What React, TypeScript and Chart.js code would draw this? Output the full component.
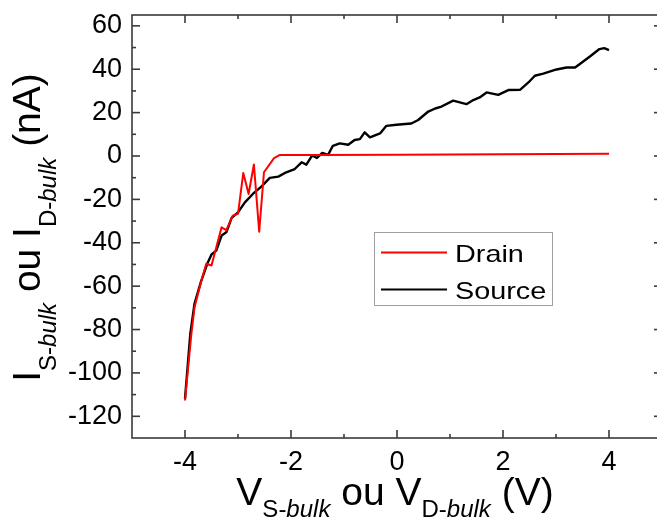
import React, { useEffect, useRef } from 'react';
import { Chart, registerables } from 'chart.js';

Chart.register(...registerables);

// ---- data ----
const drainV = [-4, -3.88, -3.82, -3.69, -3.6, -3.5, -3.31, -3.22, -3.1, -3.0, -2.9, -2.8, -2.7, -2.6, -2.51, -2.32, -2.21, -1.5, 0, 2, 4];
const drainI = [-112.7, -82, -69.7, -57.4, -49.7, -50.5, -32.9, -34.2, -27.5, -26.7, -7.8, -17.5, -3.9, -34.9, -7.5, -1.0, 0.5, 0.5, 0.6, 0.8, 1.0];

const sourceV = [-4, -3.9, -3.82, -3.7, -3.58, -3.5, -3.41, -3.31, -3.22, -3.12, -3.0, -2.87, -2.72, -2.56, -2.4, -2.24, -2.09, -1.93, -1.8, -1.71, -1.6, -1.51, -1.41, -1.3, -1.21, -1.08, -0.92, -0.8, -0.7, -0.61, -0.51, -0.32, -0.2, -0.01, 0.27, 0.4, 0.59, 0.72, 0.84, 1.06, 1.31, 1.44, 1.56, 1.69, 1.91, 2.1, 2.32, 2.48, 2.6, 2.76, 3.01, 3.2, 3.36, 3.45, 3.64, 3.82, 3.91, 4.0];
const sourceI = [-112, -82, -68, -58, -49.7, -45.4, -43.6, -36.7, -35.2, -28.5, -26, -21.4, -17.5, -14.1, -10.1, -9.5, -7.5, -6, -2.9, -4, 0.3, -0.9, 1.4, 0.5, 4.7, 5.8, 5.2, 7.4, 7.8, 10.9, 8.6, 10.4, 13.9, 14.4, 15, 16.6, 20.5, 21.9, 22.8, 25.5, 23.9, 25.8, 27, 29.3, 28.2, 30.4, 30.5, 33.9, 37, 38, 39.9, 40.8, 40.8, 42.4, 45.9, 49.3, 49.7, 48.8];

const seriesNames = ['Drain', 'Source'];
const seriesColors = ['#ff0000', '#000000'];

const xTickValues = [-4, -2, 0, 2, 4];
const xMinorValues = [-3, -1, 1, 3];
const yTickValues = [-120, -100, -80, -60, -40, -20, 0, 20, 40, 60];
const yMinorValues = [-110, -90, -70, -50, -30, -10, 10, 30, 50];

type Seg = { t: string; sub?: boolean; it?: boolean };
const xTitle: Seg[] = [
  { t: 'V' }, { t: 'S-', sub: true }, { t: 'bulk', sub: true, it: true },
  { t: ' ou V' }, { t: 'D-', sub: true }, { t: 'bulk', sub: true, it: true }, { t: ' (V)' },
];
const yTitle: Seg[] = [
  { t: 'I' }, { t: 'S-', sub: true }, { t: 'bulk', sub: true, it: true },
  { t: ' ou I' }, { t: 'D-', sub: true }, { t: 'bulk', sub: true, it: true }, { t: ' (nA)' },
];

const FONT = '"Liberation Sans", Arial, sans-serif';
const segFont = (s: Seg) => `${s.it ? 'italic ' : ''}${s.sub ? 24 : 39}px ${FONT}`;

function drawRich(ctx: CanvasRenderingContext2D, segs: Seg[], cx: number, baseY: number, subOff: number) {
  let total = 0;
  for (const s of segs) {
    ctx.font = segFont(s);
    total += ctx.measureText(s.t).width;
  }
  let x = cx - total / 2;
  ctx.textAlign = 'left';
  ctx.textBaseline = 'alphabetic';
  for (const s of segs) {
    ctx.font = segFont(s);
    ctx.fillText(s.t, x, baseY + (s.sub ? subOff : 0));
    x += ctx.measureText(s.t).width;
  }
}

function line(ctx: CanvasRenderingContext2D, x1: number, y1: number, x2: number, y2: number) {
  ctx.beginPath();
  ctx.moveTo(x1, y1);
  ctx.lineTo(x2, y2);
  ctx.stroke();
}

const framePlugin = {
  id: 'frameTicks',
  afterDraw(chart: any) {
    const ctx: CanvasRenderingContext2D = chart.ctx;
    const { left, right, top, bottom } = chart.chartArea;
    const xs = chart.scales.x;
    const ys = chart.scales.y;
    ctx.save();
    ctx.setLineDash([]);
    ctx.strokeStyle = '#3a3a3a';
    ctx.lineWidth = 1.6;
    ctx.strokeRect(left, top, right - left, bottom - top);
    const major = 8, minor = 4;
    for (const v of xTickValues) {
      const p = xs.getPixelForValue(v);
      line(ctx, p, bottom, p, bottom - major);
      line(ctx, p, top, p, top + major);
    }
    for (const v of xMinorValues) {
      const p = xs.getPixelForValue(v);
      line(ctx, p, bottom, p, bottom - minor);
      line(ctx, p, top, p, top + minor);
    }
    for (const v of yTickValues) {
      const p = ys.getPixelForValue(v);
      line(ctx, left, p, left + major, p);
      line(ctx, right, p, right - major, p);
    }
    for (const v of yMinorValues) {
      const p = ys.getPixelForValue(v);
      line(ctx, left, p, left + minor, p);
      line(ctx, right, p, right - minor, p);
    }

    ctx.fillStyle = '#000';
    // x title
    drawRich(ctx, xTitle, 395, 505, 12);
    // y title
    ctx.save();
    ctx.translate(40, (top + bottom) / 2 + 1);
    ctx.rotate(-Math.PI / 2);
    drawRich(ctx, yTitle, 0, 0, 16);
    ctx.restore();

    // legend
    ctx.strokeStyle = '#a0a0a0';
    ctx.lineWidth = 1;
    ctx.strokeRect(374.5, 232.5, 178, 73);
    const rows = [252.5, 289.5];
    chart.data.datasets.forEach((ds: any, i: number) => {
      ctx.strokeStyle = ds.borderColor;
      ctx.lineWidth = 2;
      line(ctx, 381, rows[i], 447, rows[i]);
      ctx.save();
      ctx.translate(455, rows[i] + 9);
      ctx.scale(1.2, 1);
      ctx.font = `24px ${FONT}`;
      ctx.fillStyle = '#000';
      ctx.textAlign = 'left';
      ctx.textBaseline = 'alphabetic';
      ctx.fillText(ds.label, 0, 0);
      ctx.restore();
    });
    ctx.restore();
  },
};

const zeroPad = (s: any) => {
  s.paddingTop = 0;
  s.paddingBottom = 0;
  s.paddingLeft = 0;
  s.paddingRight = 0;
};

export default function App() {
  const ref = useRef<HTMLCanvasElement | null>(null);
  useEffect(() => {
    if (!ref.current) return;
    const mk = (xs: number[], ys: number[]) => xs.map((x, i) => ({ x, y: ys[i] }));
    const chart = new Chart(ref.current, {
      type: 'line',
      data: {
        datasets: [
          { label: seriesNames[0], data: mk(drainV, drainI), borderColor: seriesColors[0], borderWidth: 2, pointRadius: 0, tension: 0, fill: false, borderJoinStyle: 'round' as const },
          { label: seriesNames[1], data: mk(sourceV, sourceI), borderColor: seriesColors[1], borderWidth: 2.4, pointRadius: 0, tension: 0, fill: false, borderJoinStyle: 'round' as const },
        ],
      },
      options: {
        responsive: false,
        devicePixelRatio: 1,
        animation: false,
        layout: { padding: { top: 15, right: 18, left: 0, bottom: 0 } },
        plugins: { legend: { display: false }, tooltip: { enabled: false } },
        scales: {
          x: {
            type: 'linear',
            min: -5,
            max: 5,
            grid: { display: false, drawTicks: false },
            border: { display: false },
            afterBuildTicks: (s: any) => { s.ticks = xTickValues.map((v) => ({ value: v })); },
            afterFit: (s: any) => { s.height = 82; zeroPad(s); },
            ticks: { color: '#000', font: { family: FONT, size: 27 }, padding: 8, maxRotation: 0, callback: (v: any) => String(v) },
          },
          y: {
            type: 'linear',
            min: -130,
            max: 65,
            grid: { display: false, drawTicks: false },
            border: { display: false },
            afterBuildTicks: (s: any) => { s.ticks = yTickValues.map((v) => ({ value: v })); },
            afterFit: (s: any) => { s.width = 132; zeroPad(s); },
            ticks: { color: '#000', font: { family: FONT, size: 27 }, padding: 10, callback: (v: any) => String(v) },
          },
        },
      },
      plugins: [framePlugin],
    });
    return () => chart.destroy();
  }, []);
  return (
    <div style={{ position: 'fixed', left: 0, top: 0, width: 657, height: 520, overflow: 'hidden', background: '#fff' }}>
      <canvas ref={ref} width={680} height={520} style={{ display: 'block', width: 680, height: 520 }} />
    </div>
  );
}
